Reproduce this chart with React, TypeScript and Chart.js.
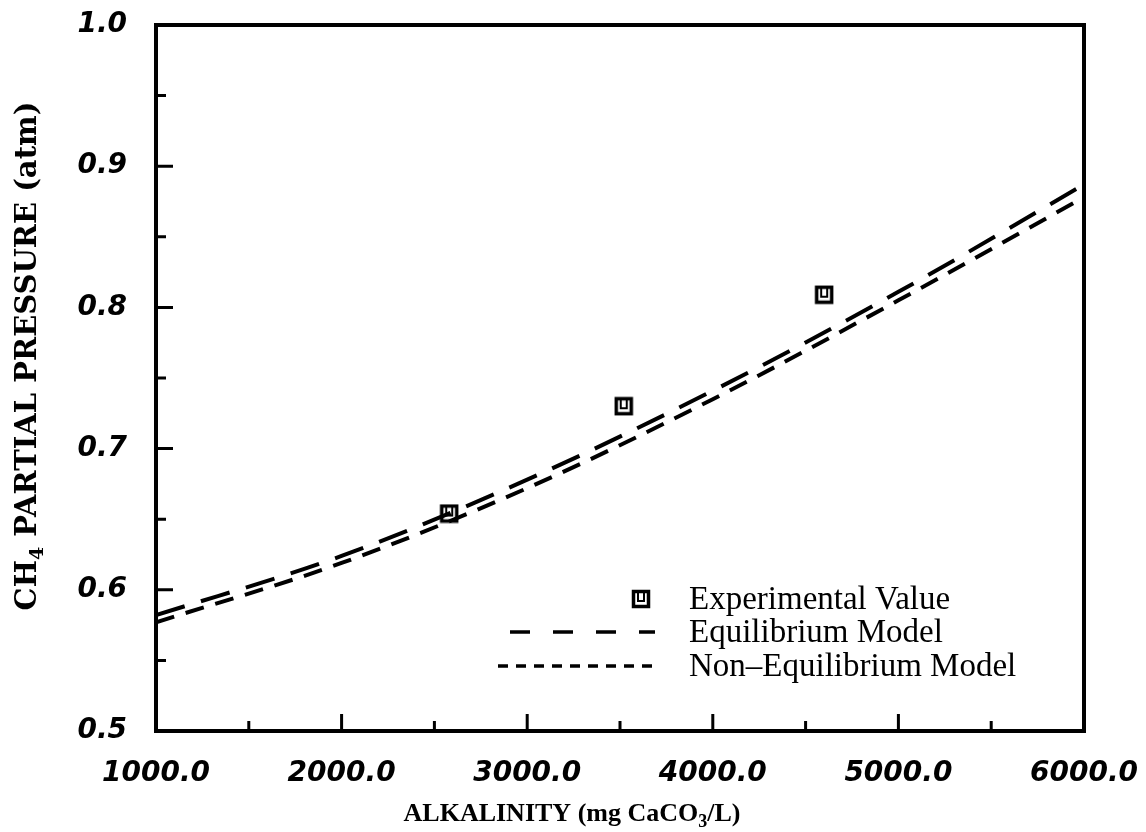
import { useEffect, useRef } from "react";
import { Chart, registerables } from "chart.js";

Chart.register(...registerables);

// Model curves, read at each 1000 mg/L of alkalinity
const alkalinity = [1000, 2000, 3000, 4000, 5000, 6000];
const equilibrium = [0.582, 0.624, 0.678, 0.741, 0.811, 0.887];
const nonEquilibrium = [0.577, 0.619, 0.672, 0.735, 0.805, 0.878];

// Measured points
const expAlkalinity = [2580, 3520, 4600];
const expPressure = [0.654, 0.73, 0.809];

// Axis ticks
const xTicks = [1000, 2000, 3000, 4000, 5000, 6000];
const xMinorTicks = [1500, 2500, 3500, 4500, 5500];
const yTicks = [0.5, 0.6, 0.7, 0.8, 0.9, 1.0];
const yMinorTicks = [0.55, 0.65, 0.75, 0.85, 0.95];

const seriesLabels = ["Experimental Value", "Equilibrium Model", "Non\u2013Equilibrium Model"];

const W = 1146;
const H = 832;

function makeMarker(): HTMLCanvasElement {
  const c = document.createElement("canvas");
  c.width = 20;
  c.height = 20;
  const g = c.getContext("2d")!;
  g.strokeStyle = "#000";
  g.lineWidth = 3.5;
  g.strokeRect(2.5, 2.5, 15, 15);
  g.lineWidth = 2;
  g.beginPath();
  g.moveTo(7, 4);
  g.lineTo(7, 12);
  g.lineTo(13, 12);
  g.lineTo(13, 4);
  g.stroke();
  return c;
}

type Piece = [string, boolean];

function drawPieces(ctx: CanvasRenderingContext2D, pieces: Piece[], font: string, subFont: string, cx: number, y: number, subShift: number) {
  let total = 0;
  for (const [t, sub] of pieces) {
    ctx.font = sub ? subFont : font;
    total += ctx.measureText(t).width;
  }
  let x = cx - total / 2;
  ctx.textAlign = "left";
  ctx.textBaseline = "alphabetic";
  for (const [t, sub] of pieces) {
    ctx.font = sub ? subFont : font;
    ctx.fillText(t, x, sub ? y + subShift : y);
    x += ctx.measureText(t).width;
  }
}

const framePlugin = {
  id: "frameAndTitles",
  afterDraw(chart: any) {
    const { ctx, chartArea: a, scales } = chart;
    const xs = scales.x;
    const ys = scales.y;
    ctx.save();
    ctx.strokeStyle = "#000";
    ctx.fillStyle = "#000";

    // inner tick marks
    ctx.lineWidth = 3;
    ctx.beginPath();
    for (const v of xTicks.slice(1, -1)) {
      const px = xs.getPixelForValue(v);
      ctx.moveTo(px, a.bottom);
      ctx.lineTo(px, a.bottom - 17);
    }
    for (const v of xMinorTicks) {
      const px = xs.getPixelForValue(v);
      ctx.moveTo(px, a.bottom);
      ctx.lineTo(px, a.bottom - 10);
    }
    for (const v of yTicks.slice(1, -1)) {
      const py = ys.getPixelForValue(v);
      ctx.moveTo(a.left, py);
      ctx.lineTo(a.left + 17, py);
    }
    for (const v of yMinorTicks) {
      const py = ys.getPixelForValue(v);
      ctx.moveTo(a.left, py);
      ctx.lineTo(a.left + 10, py);
    }
    ctx.stroke();

    // frame
    ctx.lineWidth = 4;
    ctx.strokeRect(a.left, a.top, a.right - a.left, a.bottom - a.top);

    // legend
    const ds = chart.data.datasets;
    const legX = 689;
    const rows = [599, 632, 666];
    ctx.font = "33px 'Liberation Serif'";
    ctx.textAlign = "left";
    ctx.textBaseline = "middle";
    const marker = ds[0].pointStyle as HTMLCanvasElement;
    ctx.drawImage(marker, 641 - marker.width / 2, rows[0] - marker.height / 2);
    ctx.fillText(ds[0].label, legX, rows[0] + 1);

    ctx.lineWidth = 3.5;
    ctx.setLineDash([20, 23]);
    ctx.beginPath();
    ctx.moveTo(510, rows[1]);
    ctx.lineTo(655, rows[1]);
    ctx.stroke();
    ctx.fillText(ds[1].label, legX, rows[1] + 1);

    ctx.setLineDash([10, 8]);
    ctx.beginPath();
    ctx.moveTo(498, rows[2]);
    ctx.lineTo(655, rows[2]);
    ctx.stroke();
    ctx.setLineDash([]);
    ctx.fillText(ds[2].label, legX, rows[2] + 1);

    // axis titles
    ctx.save();
    ctx.translate(36, 356);
    ctx.rotate(-Math.PI / 2);
    drawPieces(
      ctx,
      [["CH", false], ["4", true], [" PARTIAL PRESSURE (atm)", false]],
      "bold 29px 'DejaVu Serif'",
      "bold 19px 'DejaVu Serif'",
      0,
      0,
      7
    );
    ctx.restore();

    drawPieces(
      ctx,
      [["ALKALINITY (mg CaCO", false], ["3", true], ["/L)", false]],
      "bold 26px 'Liberation Serif'",
      "bold 18px 'Liberation Serif'",
      572,
      821,
      6
    );
    ctx.restore();
  },
};

export default function App() {
  const ref = useRef<HTMLCanvasElement | null>(null);

  useEffect(() => {
    if (!ref.current) return;
    const tickFont = { family: "'DejaVu Sans'", size: 28, weight: "bold" as const, style: "italic" as const };
    const chart = new Chart(ref.current, {
      type: "line",
      data: {
        datasets: [
          {
            label: seriesLabels[0],
            data: expAlkalinity.map((x, i) => ({ x, y: expPressure[i] })),
            showLine: false,
            pointStyle: makeMarker(),
            pointRadius: 10,
            borderColor: "#000",
            backgroundColor: "#000",
          },
          {
            label: seriesLabels[1],
            data: alkalinity.map((x, i) => ({ x, y: equilibrium[i] })),
            borderColor: "#000",
            borderWidth: 4,
            borderDash: [30, 17],
            pointRadius: 0,
            cubicInterpolationMode: "monotone",
            fill: false,
          },
          {
            label: seriesLabels[2],
            data: alkalinity.map((x, i) => ({ x, y: nonEquilibrium[i] })),
            borderColor: "#000",
            borderWidth: 4,
            borderDash: [19, 12],
            pointRadius: 0,
            cubicInterpolationMode: "monotone",
            fill: false,
          },
        ],
      },
      options: {
        animation: false,
        responsive: false,
        maintainAspectRatio: false,
        layout: { padding: { top: 25, right: 62, left: 0, bottom: 0 } },
        plugins: { legend: { display: false }, tooltip: { enabled: false } },
        scales: {
          x: {
            type: "linear",
            min: 1000,
            max: 6000,
            afterBuildTicks: (s: any) => {
              s.ticks = xTicks.map((value) => ({ value }));
            },
            afterFit: (s: any) => {
              s.height = H - 731;
              s.paddingLeft = 0;
              s.paddingRight = 0;
            },
            grid: { display: false, drawTicks: false },
            border: { display: false },
            ticks: {
              padding: 26,
              color: "#000",
              font: tickFont,
              maxRotation: 0,
              autoSkip: false,
              callback: (v: any) => Number(v).toFixed(1),
            },
          },
          y: {
            type: "linear",
            min: 0.5,
            max: 1.0,
            afterBuildTicks: (s: any) => {
              s.ticks = yTicks.map((value) => ({ value }));
            },
            afterFit: (s: any) => {
              s.width = 156;
              s.paddingTop = 0;
              s.paddingBottom = 0;
            },
            grid: { display: false, drawTicks: false },
            border: { display: false },
            ticks: {
              padding: 29,
              color: "#000",
              font: tickFont,
              autoSkip: false,
              callback: (v: any) => Number(v).toFixed(1),
            },
          },
        },
      },
      plugins: [framePlugin],
    });
    return () => chart.destroy();
  }, []);

  return (
    <div style={{ position: "fixed", left: 0, top: 0, width: W, height: H, background: "#fff" }}>
      <canvas ref={ref} width={W} height={H} style={{ display: "block", width: W, height: H }} />
    </div>
  );
}
